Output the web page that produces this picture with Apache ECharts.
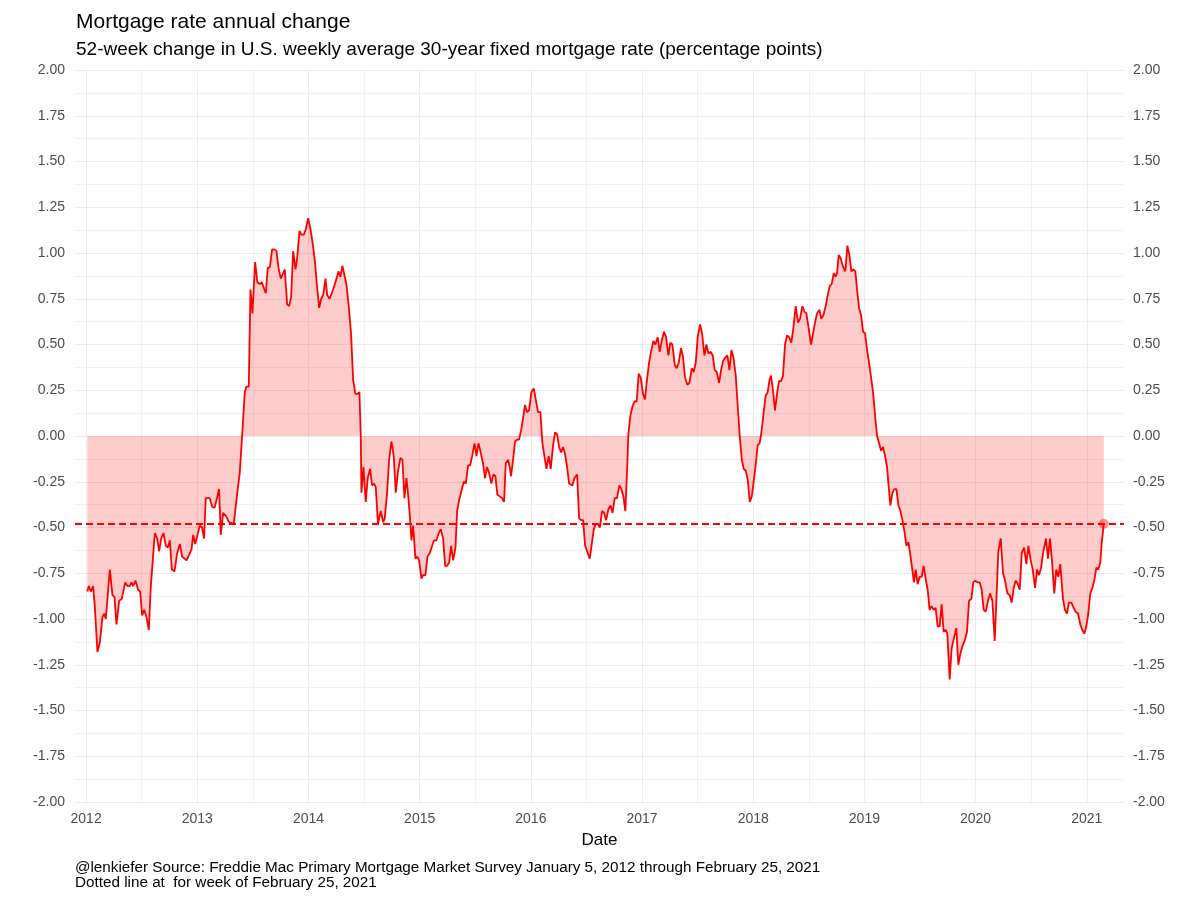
<!DOCTYPE html>
<html>
<head>
<meta charset="utf-8">
<title>Mortgage rate annual change</title>
<script src="https://cdn.jsdelivr.net/npm/echarts@6/dist/echarts.min.js"></script>
<style>
  html, body { margin: 0; padding: 0; background: #fff; }
  #chart { width: 1200px; height: 900px; }
</style>
</head>
<body>
<div id="chart"></div>
<script>
// week dates as decimal years
var weekYear = [
  2012.011,2012.024,2012.042,2012.063,2012.078,2012.102,2012.123,2012.147,2012.162,2012.177,
  2012.213,2012.237,2012.255,2012.273,2012.297,2012.321,2012.351,2012.372,2012.393,2012.408,
  2012.423,2012.444,2012.468,2012.486,2012.504,2012.522,2012.543,2012.564,2012.582,2012.618,
  2012.639,2012.657,2012.675,2012.696,2012.717,2012.735,2012.753,2012.771,2012.795,2012.819,
  2012.843,2012.864,2012.885,2012.903,2012.927,2012.948,2012.963,2012.981,2012.998,2013.022,
  2013.043,2013.061,2013.076,2013.112,2013.136,2013.157,2013.196,2013.211,2013.232,2013.262,
  2013.283,2013.298,2013.328,2013.352,2013.382,2013.403,2013.427,2013.442,2013.463,
  2013.478,2013.496,2013.520,2013.541,2013.562,2013.580,2013.598,2013.616,2013.634,2013.652,
  2013.673,2013.694,2013.712,2013.730,2013.751,2013.766,2013.787,2013.808,2013.826,2013.844,
  2013.862,2013.883,2013.898,2013.919,2013.937,2013.958,2013.976,2013.997,2014.018,2014.036,
  2014.057,2014.075,2014.096,2014.114,2014.132,2014.153,2014.168,2014.189,2014.210,2014.231,
  2014.252,2014.270,2014.287,2014.305,2014.320,2014.341,2014.362,2014.383,2014.401,2014.422,
  2014.440,2014.458,2014.470,2014.476,2014.494,2014.515,2014.533,2014.554,2014.572,2014.590,
  2014.605,2014.625,
  2014.650,2014.671,2014.686,2014.707,2014.725,2014.746,2014.767,2014.785,2014.806,2014.827,
  2014.845,2014.863,2014.881,2014.899,2014.917,2014.926,2014.941,2014.962,2014.980,2014.995,
  2015.016,2015.031,2015.052,2015.070,2015.091,2015.112,2015.130,2015.151,2015.172,2015.190,
  2015.211,2015.229,2015.247,2015.265,2015.283,2015.301,2015.322,2015.337,2015.355,2015.376,
  2015.397,2015.415,2015.436,2015.454,2015.472,2015.493,2015.511,2015.529,2015.549,2015.570,
  2015.588,2015.606,2015.624,2015.645,2015.663,2015.681,2015.699,2015.720,2015.741,2015.759,
  2015.774,2015.795,2015.810,2015.822,2015.840,2015.858,2015.876,2015.894,2015.915,2015.930,
  2015.948,2015.966,2015.984,2016.005,2016.026,2016.044,2016.065,2016.086,2016.104,2016.122,
  2016.140,2016.161,2016.179,2016.200,2016.218,2016.236,2016.254,2016.272,2016.290,2016.308,
  2016.326,2016.344,
  2016.374,2016.392,2016.416,2016.434,2016.452,2016.470,2016.488,2016.506,2016.530,2016.548,
  2016.566,2016.584,2016.602,2016.620,2016.641,2016.659,2016.677,2016.698,2016.716,2016.734,
  2016.755,2016.775,2016.796,2016.814,2016.832,2016.850,2016.868,2016.877,2016.895,2016.913,
  2016.934,2016.952,2016.970,2016.988,2017.009,2017.027,2017.045,2017.063,2017.081,2017.102,
  2017.120,2017.141,2017.159,2017.177,2017.198,2017.216,2017.237,2017.255,2017.273,2017.294,
  2017.312,2017.330,2017.351,2017.369,2017.387,2017.408,2017.426,2017.447,2017.465,2017.483,
  2017.501,2017.522,2017.540,2017.561,2017.579,2017.597,2017.618,2017.636,2017.654,2017.672,
  2017.693,2017.711,2017.729,2017.750,2017.768,2017.786,2017.804,2017.822,2017.843,2017.861,
  2017.879,2017.897,2017.915,2017.933,2017.951,2017.969,2017.987,2018.004,2018.022,2018.040,
  2018.058,
  2018.076,2018.094,2018.112,2018.130,2018.148,2018.160,2018.178,2018.196,2018.214,2018.232,
  2018.250,2018.268,2018.286,2018.304,2018.322,2018.343,2018.361,2018.382,2018.403,2018.421,
  2018.442,2018.460,2018.478,2018.496,2018.520,2018.538,2018.556,2018.574,2018.595,2018.613,
  2018.631,2018.652,2018.670,2018.688,2018.706,2018.724,2018.742,2018.754,2018.769,2018.787,
  2018.805,2018.829,2018.847,2018.865,2018.883,2018.901,2018.919,2018.934,2018.952,2018.970,
  2018.988,2019.006,2019.024,2019.042,2019.060,2019.078,2019.096,2019.114,2019.132,2019.150,
  2019.168,2019.186,2019.204,2019.216,2019.234,2019.252,2019.270,2019.288,2019.306,2019.324,
  2019.342,2019.360,2019.378,2019.396,2019.413,2019.431,2019.446,2019.461,2019.479,2019.497,
  2019.515,2019.533,2019.551,2019.569,
  2019.587,2019.605,2019.623,2019.641,2019.659,2019.677,2019.695,2019.713,2019.731,2019.746,
  2019.767,2019.785,2019.803,2019.827,2019.845,2019.863,2019.881,2019.902,2019.923,2019.941,
  2019.962,2019.980,2019.998,2020.016,2020.037,2020.055,2020.073,2020.091,2020.112,2020.130,
  2020.151,2020.172,2020.187,2020.205,2020.226,2020.247,2020.265,2020.286,2020.307,2020.325,
  2020.343,2020.361,2020.379,2020.397,2020.415,2020.436,2020.457,2020.475,2020.493,2020.514,
  2020.535,2020.553,2020.571,2020.589,2020.607,2020.633,2020.651,2020.669,2020.687,2020.708,
  2020.726,2020.744,2020.762,2020.786,2020.804,2020.822,2020.840,2020.861,2020.882,2020.900,
  2020.921,2020.942,2020.960,2020.978,2020.996,2021.014,2021.032,2021.050,2021.068,2021.086,
  2021.104,2021.122,2021.134,2021.153
];

// 52-week change, percentage points
var rateChange = [
  -0.85,-0.82,-0.85,-0.82,-0.93,-1.18,-1.13,-0.99,-0.97,-1.00,
  -0.73,-0.87,-0.88,-1.03,-0.90,-0.89,-0.80,-0.82,-0.82,-0.80,
  -0.82,-0.79,-0.84,-0.85,-0.98,-0.95,-0.99,-1.06,-0.82,-0.53,
  -0.56,-0.63,-0.56,-0.53,-0.60,-0.61,-0.57,-0.73,-0.74,-0.64,
  -0.59,-0.66,-0.67,-0.68,-0.65,-0.62,-0.54,-0.59,-0.55,-0.49,
  -0.50,-0.56,-0.34,-0.34,-0.39,-0.39,-0.29,-0.54,-0.42,-0.44,
  -0.47,-0.47,-0.48,-0.35,-0.20,0.00,0.24,0.27,0.27,
  0.80,0.67,0.95,0.84,0.83,0.84,0.81,0.78,0.92,0.92,
  1.02,1.02,1.01,0.92,0.86,0.85,0.91,0.72,0.71,0.76,
  1.01,0.91,0.97,1.12,1.10,1.10,1.13,1.19,1.13,1.06,
  0.96,0.83,0.70,0.75,0.77,0.86,0.77,0.75,0.78,0.82,
  0.86,0.90,0.87,0.93,0.94,0.83,0.71,0.56,0.31,0.23,
  0.23,0.24,0.01,-0.31,-0.17,-0.36,-0.23,-0.18,-0.27,-0.26,
  -0.28,-0.48,
  -0.41,-0.47,-0.45,-0.31,-0.13,-0.03,-0.11,-0.31,-0.19,-0.12,
  -0.13,-0.34,-0.23,-0.34,-0.48,-0.57,-0.49,-0.67,-0.66,-0.68,
  -0.78,-0.76,-0.76,-0.66,-0.64,-0.60,-0.57,-0.57,-0.53,-0.51,
  -0.56,-0.71,-0.71,-0.69,-0.60,-0.68,-0.61,-0.41,-0.35,-0.30,
  -0.25,-0.26,-0.16,-0.16,-0.11,-0.04,-0.11,-0.04,-0.09,-0.15,
  -0.23,-0.17,-0.20,-0.26,-0.21,-0.22,-0.32,-0.33,-0.34,-0.36,
  -0.15,-0.13,-0.17,-0.22,-0.13,-0.03,-0.02,-0.02,0.04,0.03,
  0.17,0.13,0.14,0.24,0.26,0.20,0.13,0.13,-0.04,-0.11,
  -0.18,-0.11,-0.18,-0.05,0.02,0.01,-0.06,-0.09,-0.06,-0.10,
  -0.17,-0.26,
  -0.27,-0.23,-0.21,-0.45,-0.46,-0.46,-0.60,-0.63,-0.67,-0.59,
  -0.51,-0.48,-0.48,-0.50,-0.41,-0.42,-0.46,-0.40,-0.38,-0.42,
  -0.34,-0.34,-0.27,-0.29,-0.33,-0.41,-0.15,0.01,0.11,0.16,
  0.19,0.19,0.34,0.32,0.23,0.20,0.31,0.40,0.46,0.52,
  0.50,0.54,0.46,0.52,0.57,0.54,0.44,0.51,0.50,0.39,
  0.37,0.40,0.48,0.43,0.32,0.28,0.29,0.37,0.35,0.40,
  0.54,0.61,0.56,0.44,0.50,0.45,0.46,0.44,0.36,0.35,
  0.29,0.36,0.41,0.43,0.44,0.36,0.47,0.43,0.33,0.16,
  0.00,-0.13,-0.18,-0.19,-0.24,-0.36,-0.33,-0.25,-0.16,-0.05,
  -0.04,
  0.03,0.13,0.22,0.24,0.31,0.33,0.25,0.14,0.23,0.30,
  0.30,0.33,0.50,0.55,0.54,0.51,0.59,0.71,0.62,0.64,
  0.71,0.68,0.67,0.60,0.50,0.56,0.62,0.67,0.69,0.64,
  0.66,0.71,0.77,0.82,0.83,0.89,0.87,0.89,0.99,0.97,
  0.93,0.90,1.04,0.99,0.90,0.91,0.90,0.80,0.70,0.66,
  0.57,0.56,0.47,0.40,0.32,0.24,0.11,0.00,-0.04,-0.08,
  -0.06,-0.11,-0.17,-0.26,-0.38,-0.31,-0.29,-0.29,-0.38,-0.41,
  -0.46,-0.52,-0.60,-0.58,-0.65,-0.73,-0.80,-0.73,-0.81,-0.77,
  -0.77,-0.71,-0.78,-0.84,
  -0.95,-0.93,-0.95,-0.94,-1.04,-1.04,-0.92,-1.07,-1.06,-1.08,
  -1.33,-1.16,-1.11,-1.05,-1.25,-1.19,-1.15,-1.12,-1.07,-0.90,
  -0.89,-0.80,-0.79,-0.80,-0.80,-0.84,-0.95,-0.96,-0.90,-0.86,
  -0.90,-1.12,-0.90,-0.63,-0.56,-0.75,-0.79,-0.86,-0.87,-0.91,
  -0.83,-0.79,-0.81,-0.84,-0.64,-0.61,-0.70,-0.60,-0.67,-0.73,
  -0.83,-0.73,-0.76,-0.72,-0.64,-0.56,-0.67,-0.56,-0.68,-0.86,
  -0.73,-0.77,-0.70,-0.89,-0.95,-0.97,-0.91,-0.91,-0.94,-0.96,
  -0.97,-1.03,-1.06,-1.08,-1.04,-0.97,-0.86,-0.83,-0.79,-0.72,
  -0.73,-0.69,-0.59,-0.48
];

var yearTicks = [2012, 2013, 2014, 2015, 2016, 2017, 2018, 2019, 2020, 2021];
var halfYearTicks = [2012.5, 2013.5, 2014.5, 2015.5, 2016.5, 2017.5, 2018.5, 2019.5, 2020.5];

var FONT = 'Liberation Sans, Arial, sans-serif';
var GRID = '#EBEBEB';

var seriesData = weekYear.map(function (y, i) { return [y, rateChange[i]]; });
var lastYear = weekYear[weekYear.length - 1];
var lastValue = rateChange[rateChange.length - 1];

var vLines = yearTicks.map(function (v) {
  return { xAxis: v, lineStyle: { color: GRID, width: 1, type: 'solid' } };
}).concat(halfYearTicks.map(function (v) {
  return { xAxis: v, lineStyle: { color: '#F1F1F1', width: 1, type: 'solid' } };
}));

var yAxisBase = function (pos) {
  return {
    type: 'value',
    position: pos,
    min: -2,
    max: 2,
    interval: 0.25,
    axisLine: { show: false },
    axisTick: { show: false },
    axisLabel: {
      color: '#4D4D4D',
      fontSize: 14,
      fontFamily: FONT,
      margin: pos === 'left' ? 10 : 9,
      formatter: function (v) { return v.toFixed(2); }
    },
    splitLine: { show: pos === 'left', lineStyle: { color: GRID, width: 1 } },
    minorTick: { show: false, splitNumber: 2 },
    minorSplitLine: { show: pos === 'left', lineStyle: { color: '#F1F1F1', width: 1 } }
  };
};

var chart = echarts.init(document.getElementById('chart'), null, { renderer: 'canvas' });

chart.setOption({
  animation: false,
  backgroundColor: '#ffffff',
  title: [
    {
      text: 'Mortgage rate annual change',
      left: 71, top: 7,
      textStyle: { fontFamily: FONT, fontSize: 21, fontWeight: 'normal', color: '#000' }
    },
    {
      text: '52-week change in U.S. weekly average 30-year fixed mortgage rate (percentage points)',
      left: 71, top: 35,
      textStyle: { fontFamily: FONT, fontSize: 19, fontWeight: 'normal', color: '#000' }
    },
    {
      text: '@lenkiefer Source: Freddie Mac Primary Mortgage Market Survey January 5, 2012 through February 25, 2021\nDotted line at  for week of February 25, 2021',
      left: 70, top: 855,
      textStyle: { fontFamily: FONT, fontSize: 15.25, fontWeight: 'normal', color: '#000', lineHeight: 15 }
    }
  ],
  grid: { left: 75, right: 76, top: 70, bottom: 98, containLabel: false },
  xAxis: {
    type: 'value',
    min: 2011.9,
    max: 2021.335,
    name: 'Date',
    nameLocation: 'middle',
    nameGap: 30,
    nameTextStyle: { fontFamily: FONT, fontSize: 17, color: '#000' },
    axisLine: { show: false },
    axisTick: { show: false, customValues: yearTicks },
    splitLine: { show: false },
    axisLabel: {
      customValues: yearTicks,
      color: '#4D4D4D',
      fontSize: 14,
      fontFamily: FONT,
      margin: 10,
      formatter: function (v) { return String(Math.round(v)); }
    }
  },
  yAxis: [yAxisBase('left'), yAxisBase('right')],
  series: [
    {
      // vertical grid lines at years and half years, kept under the fill
      type: 'line',
      data: [],
      z: 1,
      silent: true,
      markLine: {
        silent: true,
        z: 1,
        symbol: 'none',
        label: { show: false },
        animation: false,
        data: vLines
      }
    },
    {
      name: 'change',
      type: 'line',
      data: seriesData,
      z: 3,
      symbol: 'none',
      showSymbol: false,
      lineStyle: { color: '#FF0000', width: 1.8 },
      areaStyle: { color: 'rgba(255,0,0,0.2)', opacity: 1, origin: 0 },
      markLine: {
        silent: true,
        z: 5,
        symbol: 'none',
        label: { show: false },
        lineStyle: { color: '#FF0000', width: 2, type: [7, 4] },
        data: [{ yAxis: lastValue }]
      }
    },
    {
      type: 'scatter',
      z: 6,
      data: [[lastYear, lastValue]],
      symbolSize: 10,
      itemStyle: { color: 'rgba(255,0,0,0.5)' },
      silent: true
    }
  ]
});
</script>
</body>
</html>
